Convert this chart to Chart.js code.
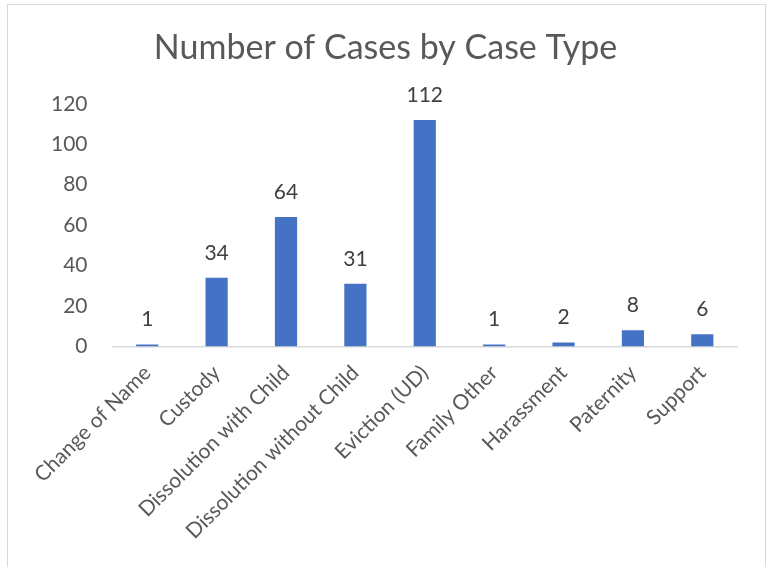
<!DOCTYPE html>
<html>
<head>
<meta charset="utf-8">
<script src="https://cdn.jsdelivr.net/npm/chart.js@4"></script>
<style>
  html, body { margin: 0; padding: 0; background: #fff; }
  #frame { position: absolute; left: 7px; top: 4px; width: 759px; height: 580px; border: 1px solid #d9d9d9; box-sizing: border-box; }
  #wrap { position: absolute; left: 0; top: 0; width: 769px; height: 567px; }
</style>
</head>
<body>
<div id="frame"></div>
<div id="wrap"><canvas id="chart" width="769" height="567"></canvas></div>
<script>
// chart data
const caseTypes = ["Change of Name", "Custody", "Dissolution with Child", "Dissolution without Child",
  "Eviction (UD)", "Family Other", "Harassment", "Paternity", "Support"];
const caseCounts = [1, 34, 64, 31, 112, 1, 2, 8, 6];
const yTicks = [0, 20, 40, 60, 80, 100, 120];

const fontFamily = "Lato, 'Open Sans', sans-serif";

// draw the value above each bar
const valueLabels = {
  id: "valueLabels",
  afterDatasetsDraw(chart) {
    const ctx = chart.ctx;
    const meta = chart.getDatasetMeta(0);
    ctx.save();
    ctx.font = "21px " + fontFamily;
    ctx.fillStyle = "#404040";
    ctx.textAlign = "center";
    ctx.textBaseline = "alphabetic";
    meta.data.forEach((bar, i) => {
      ctx.fillText(String(caseCounts[i]), bar.x, bar.y - 18);
    });
    ctx.restore();
  }
};

new Chart(document.getElementById("chart"), {
  type: "bar",
  data: {
    labels: caseTypes,
    datasets: [{
      data: caseCounts,
      backgroundColor: "#4472C4",
      barPercentage: 0.64,
      categoryPercentage: 0.5
    }]
  },
  options: {
    responsive: false,
    animation: false,
    layout: { padding: { left: 34, right: 32, top: 4, bottom: 17 } },
    plugins: {
      legend: { display: false },
      tooltip: { enabled: false },
      title: {
        display: true,
        text: "Number of Cases by Case Type",
        color: "#595959",
        font: { family: fontFamily, size: 34, weight: "normal" },
        padding: { top: 24, bottom: 35 }
      }
    },
    scales: {
      x: {
        grid: { display: false },
        border: { display: true, color: "#d9d9d9", width: 1.5 },
        ticks: {
          color: "#595959",
          font: { family: fontFamily, size: 21 },
          minRotation: 45,
          maxRotation: 45,
          padding: 6
        }
      },
      y: {
        min: 0,
        max: 120,
        afterBuildTicks(axis) { axis.ticks = yTicks.map(v => ({ value: v })); },
        grid: { display: false },
        border: { display: false },
        ticks: {
          color: "#595959",
          font: { family: fontFamily, size: 21 },
          padding: 17
        }
      }
    }
  },
  plugins: [valueLabels]
});
</script>
</body>
</html>
